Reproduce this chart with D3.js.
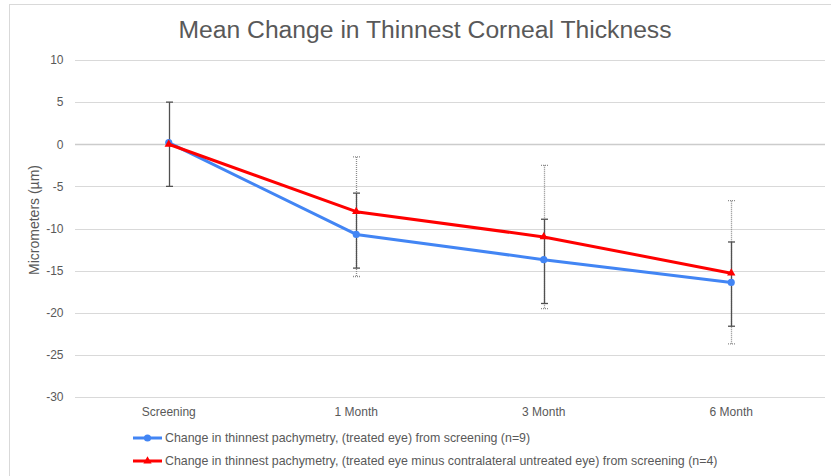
<!DOCTYPE html>
<html>
<head>
<meta charset="utf-8">
<script src="https://cdn.jsdelivr.net/npm/d3@7"></script>
<style>
  body { margin: 0; background: #fff; }
  svg { font-family: "Liberation Sans", Arial, sans-serif; }
</style>
</head>
<body>
<div id="chart"></div>
<script>
// values
var categories = ["Screening", "1 Month", "3 Month", "6 Month"];
var yTicks = [10, 5, 0, -5, -10, -15, -20, -25, -30];

var treatedMean = [0.2, -10.7, -13.7, -16.4];
var treatedLow  = [-5, -14.7, -18.9, -21.6];
var treatedHigh = [5, -5.8, -8.9, -11.6];

var diffMean = [0, -8.0, -11.0, -15.3];
var diffLow  = [null, -15.7, -19.5, -23.7];
var diffHigh = [null, -1.5, -2.5, -6.7];

var legendLabels = [
  "Change in thinnest pachymetry, (treated eye) from screening (n=9)",
  "Change in thinnest pachymetry, (treated eye minus contralateral untreated eye) from screening (n=4)"
];

var width = 831, height = 476;
var blue = "rgb(66,133,244)", red = "#ff0000", textGray = "#595959";

var svg = d3.select("#chart").append("svg")
    .attr("width", width)
    .attr("height", height);

// chart area border
svg.append("rect")
    .attr("x", 9.5).attr("y", 4.5)
    .attr("width", width + 10).attr("height", height + 10)
    .attr("fill", "none")
    .attr("stroke", "#d9d9d9");

var x = d3.scaleBand().domain(categories).range([75, 825]).padding(0);
var y = d3.scaleLinear().domain([-30, 10]).range([397, 60]);
var cx = function(i) { return x(categories[i]) + x.bandwidth() / 2; };

svg.append("text")
    .attr("x", 425).attr("y", 38)
    .attr("text-anchor", "middle")
    .attr("font-size", 24.7)
    .attr("fill", textGray)
    .text("Mean Change in Thinnest Corneal Thickness");

// gridlines
svg.append("g").selectAll("line")
    .data(yTicks)
    .enter().append("line")
    .attr("x1", 75).attr("x2", 825)
    .attr("y1", function(d) { return Math.round(y(d)) + 0.5; })
    .attr("y2", function(d) { return Math.round(y(d)) + 0.5; })
    .attr("stroke", function(d) { return d == 0 ? "#cccccc" : "#d9d9d9"; })
    .attr("stroke-width", function(d) { return d == 0 ? 1.5 : 1; });

// y axis labels
var yAxis = svg.append("g")
    .attr("transform", "translate(63.5,0)")
    .call(d3.axisLeft(y).tickValues(yTicks).tickSize(0).tickPadding(0)
      .tickFormat(function(d) { return String(d); }));
yAxis.select(".domain").remove();
yAxis.selectAll("text")
    .attr("font-size", 12)
    .attr("font-family", "Liberation Sans, Arial, sans-serif")
    .attr("fill", textGray);

// x axis labels
var xAxis = svg.append("g")
    .attr("transform", "translate(0,407)")
    .call(d3.axisBottom(x).tickSize(0).tickPadding(0));
xAxis.select(".domain").remove();
xAxis.selectAll("text")
    .attr("font-size", 12)
    .attr("font-family", "Liberation Sans, Arial, sans-serif")
    .attr("fill", textGray);

svg.append("text")
    .attr("transform", "translate(39,220) rotate(-90)")
    .attr("text-anchor", "middle")
    .attr("font-size", 14)
    .attr("fill", textGray)
    .text("Micrometers (µm)");

function errorBars(low, high, color, dash) {
  var g = svg.append("g")
      .attr("stroke", color)
      .attr("stroke-width", 1.3)
      .attr("stroke-dasharray", dash);
  categories.forEach(function(c, i) {
    if (low[i] == null) return;
    var xc = Math.round(cx(i)) + 0.5;
    g.append("line").attr("x1", xc).attr("x2", xc)
        .attr("y1", y(high[i])).attr("y2", y(low[i]));
    [low[i], high[i]].forEach(function(v) {
      g.append("line").attr("x1", xc - 3.5).attr("x2", xc + 3.5)
          .attr("y1", y(v)).attr("y2", y(v));
    });
  });
}

errorBars(diffLow, diffHigh, "#8c8c8c", "1,1");
errorBars(treatedLow, treatedHigh, "#505050", null);

var line = d3.line()
    .x(function(d, i) { return cx(i); })
    .y(function(d) { return y(d); });

function series(values, color, marker) {
  svg.append("path")
      .datum(values)
      .attr("d", line)
      .attr("fill", "none")
      .attr("stroke", color)
      .attr("stroke-width", 3)
      .attr("stroke-linejoin", "round");
  svg.append("g").selectAll("path")
      .data(values)
      .enter().append("path")
      .attr("transform", function(d, i) { return "translate(" + cx(i) + "," + y(d) + ")"; })
      .attr("d", d3.symbol().type(marker).size(marker == d3.symbolCircle ? 40 : 30))
      .attr("fill", color);
}

series(treatedMean, blue, d3.symbolCircle);
series(diffMean, red, d3.symbolTriangle);

// legend
var legend = svg.append("g").selectAll("g")
    .data(legendLabels)
    .enter().append("g")
    .attr("transform", function(d, i) { return "translate(133," + (438 + i * 23) + ")"; });
legend.append("line")
    .attr("x1", 0).attr("x2", 29)
    .attr("stroke", function(d, i) { return i == 0 ? blue : red; })
    .attr("stroke-width", 3);
legend.append("path")
    .attr("transform", "translate(14.5,0)")
    .attr("d", function(d, i) {
      return d3.symbol().type(i == 0 ? d3.symbolCircle : d3.symbolTriangle).size(i == 0 ? 40 : 30)();
    })
    .attr("fill", function(d, i) { return i == 0 ? blue : red; });
legend.append("text")
    .attr("x", 32).attr("y", 4)
    .attr("font-size", 12.4)
    .attr("fill", textGray)
    .text(function(d) { return d; });
</script>
</body>
</html>
